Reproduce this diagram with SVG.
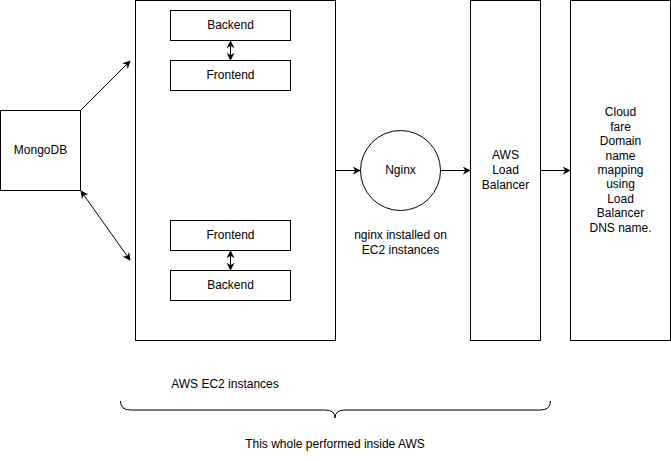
<svg xmlns="http://www.w3.org/2000/svg" width="671" height="461" viewBox="0 0 671 461">
<style>
.box{fill:#fff;stroke:#000;stroke-width:1}
.t{font-family:"Liberation Sans",Arial,sans-serif;font-size:12px;fill:#000;text-anchor:middle;dominant-baseline:central}
.c{stroke:#000;stroke-width:1;fill:none}
</style>
<defs>
<marker id="ah" viewBox="0 0 10 10" refX="9" refY="5" markerWidth="8" markerHeight="8" markerUnits="userSpaceOnUse" orient="auto-start-reverse">
<path d="M0,0 L10,5 L0,10 L3,5 Z" fill="#000"/>
</marker>
</defs>
<rect width="671" height="461" fill="#fff"/>
<g id="ec2">
<rect class="box" x="135.5" y="0.5" width="200" height="340"/>
</g>
<g id="backend1"><rect class="box" x="170.5" y="10.5" width="120" height="30"/><text class="t" x="230.5" y="25">Backend</text></g>
<g id="frontend1"><rect class="box" x="170.5" y="60.5" width="120" height="30"/><text class="t" x="230.5" y="75">Frontend</text></g>
<g id="frontend2"><rect class="box" x="170.5" y="220.5" width="120" height="30"/><text class="t" x="230.5" y="235">Frontend</text></g>
<g id="backend2"><rect class="box" x="170.5" y="270.5" width="120" height="30"/><text class="t" x="230.5" y="285">Backend</text></g>
<g id="mongodb"><rect class="box" x="0.5" y="110.5" width="80" height="80"/><text class="t" x="40.5" y="150">MongoDB</text></g>
<g id="nginx"><circle class="box" cx="400.5" cy="170.5" r="40"/><text class="t" x="400.5" y="170">Nginx</text></g>
<g id="lb"><rect class="box" x="470.5" y="0.5" width="70" height="340"/><text class="t" x="505.5" y="155">AWS</text><text class="t" x="505.5" y="170">Load</text><text class="t" x="505.5" y="185">Balancer</text></g>
<g id="cloudflare"><rect class="box" x="570.5" y="0.5" width="100" height="340"/>
<text class="t" x="620.5" y="112.4">Cloud</text>
<text class="t" x="620.5" y="126.8">fare</text>
<text class="t" x="620.5" y="141.2">Domain</text>
<text class="t" x="620.5" y="155.6">name</text>
<text class="t" x="620.5" y="170">mapping</text>
<text class="t" x="620.5" y="184.4">using</text>
<text class="t" x="620.5" y="198.8">Load</text>
<text class="t" x="620.5" y="213.2">Balancer</text>
<text class="t" x="620.5" y="227.6">DNS name.</text>
</g>
<g id="labels">
<text class="t" x="400.5" y="235">nginx installed on</text>
<text class="t" x="400.5" y="250">EC2 instances</text>
<text class="t" x="225" y="384">AWS EC2 instances</text>
<text class="t" x="335" y="444">This whole performed inside AWS</text>
</g>
<g id="connectors">
<line class="c" x1="230.5" y1="41" x2="230.5" y2="60" marker-start="url(#ah)" marker-end="url(#ah)"/>
<line class="c" x1="230.5" y1="251" x2="230.5" y2="270" marker-start="url(#ah)" marker-end="url(#ah)"/>
<line class="c" x1="80.5" y1="110.5" x2="130" y2="61" marker-end="url(#ah)"/>
<line class="c" x1="81" y1="191" x2="130" y2="260" marker-start="url(#ah)" marker-end="url(#ah)"/>
<line class="c" x1="335.5" y1="170.5" x2="360" y2="170.5" marker-end="url(#ah)"/>
<line class="c" x1="440.5" y1="170.5" x2="470" y2="170.5" marker-end="url(#ah)"/>
<line class="c" x1="540.5" y1="170.5" x2="570" y2="170.5" marker-end="url(#ah)"/>
<path class="c" d="M120.5,401 Q120.5,410 130.5,410 L325,410 Q335,410 335,418 Q335,410 345,410 L540.5,410 Q550.5,410 550.5,401"/>
</g>
</svg>
